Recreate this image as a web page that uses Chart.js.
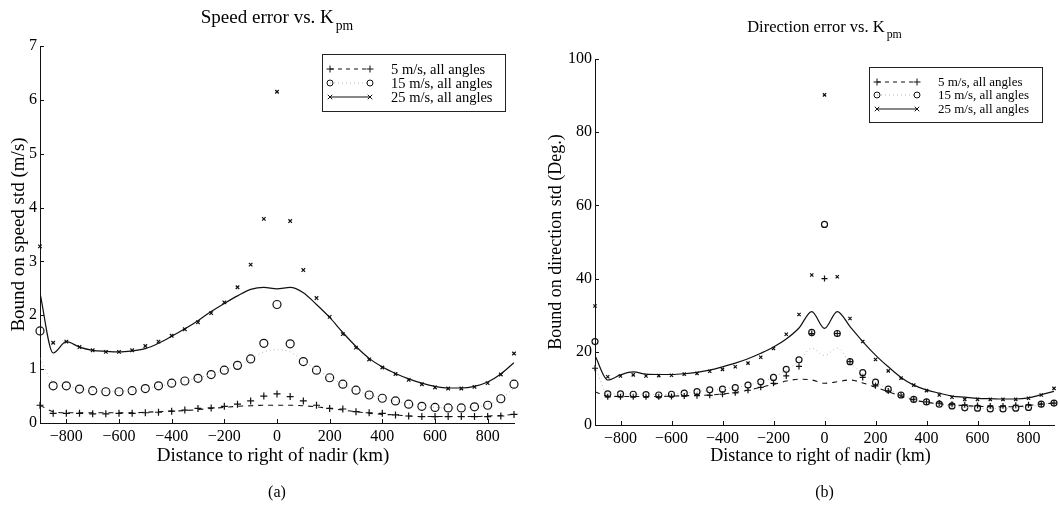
<!DOCTYPE html>
<html>
<head>
<meta charset="utf-8">
<script src="https://cdn.jsdelivr.net/npm/chart.js@4.4.1/dist/chart.umd.min.js"></script>
<style>
  body { margin: 0; background: #fff; }
  .panel { position: absolute; top: 0; width: 530px; height: 514px; }
</style>
</head>
<body>
<div class="panel" style="left:0"><canvas id="speedChart" width="530" height="514"></canvas></div>
<div class="panel" style="left:530px"><canvas id="dirChart" width="530" height="514"></canvas></div>
<script>
// distance to right of nadir (km)
const distance = [-900,-850,-800,-750,-700,-650,-600,-550,-500,-450,-400,-350,-300,-250,-200,-150,-100,-50,0,
  50,100,150,200,250,300,350,400,450,500,550,600,650,700,750,800,850,900];
const xTicks = [-800,-600,-400,-200,0,200,400,600,800];
const speedTicks = [0,1,2,3,4,5,6,7];
const dirTicks = [0,20,40,60,80,100];
const seriesNames = ['5 m/s, all angles', '15 m/s, all angles', '25 m/s, all angles'];

// (a) speed error bound, m/s
const spd5Pts  = [0.33,0.18,0.18,0.18,0.17,0.17,0.18,0.18,0.19,0.20,0.22,0.24,0.27,0.28,0.31,0.35,0.41,0.50,0.54,
  0.49,0.41,0.33,0.27,0.26,0.21,0.19,0.18,0.15,0.13,0.12,0.12,0.12,0.12,0.12,0.12,0.13,0.16];
const spd5Line = [0.33,0.21,0.19,0.19,0.19,0.19,0.19,0.19,0.20,0.21,0.22,0.23,0.25,0.27,0.29,0.31,0.32,0.33,0.33,
  0.33,0.32,0.30,0.27,0.24,0.21,0.18,0.16,0.15,0.13,0.12,0.12,0.12,0.12,0.12,0.13,0.14,0.16];
const spd15Pts = [1.71,0.69,0.69,0.63,0.60,0.58,0.58,0.60,0.64,0.69,0.74,0.78,0.83,0.90,0.98,1.07,1.19,1.48,2.20,
  1.47,1.14,0.98,0.84,0.72,0.61,0.52,0.46,0.41,0.35,0.31,0.29,0.28,0.28,0.30,0.33,0.45,0.72];
const spd15Line = [1.20,0.75,0.68,0.64,0.61,0.59,0.59,0.61,0.64,0.68,0.73,0.78,0.84,0.90,0.98,1.07,1.18,1.32,1.36,
  1.32,1.15,0.99,0.85,0.72,0.61,0.52,0.46,0.40,0.35,0.31,0.29,0.28,0.28,0.30,0.34,0.45,0.65];
const spd25Pts = [3.28,1.49,1.51,1.41,1.35,1.32,1.32,1.35,1.43,1.51,1.62,1.74,1.87,2.04,2.24,2.52,2.94,3.79,6.15,
  3.75,2.84,2.32,1.97,1.65,1.40,1.18,1.03,0.91,0.80,0.72,0.66,0.64,0.64,0.67,0.74,0.90,1.29];
const spd25Line = [2.41,1.30,1.51,1.41,1.35,1.33,1.32,1.34,1.38,1.48,1.61,1.75,1.90,2.07,2.22,2.36,2.48,2.52,2.49,
  2.52,2.42,2.20,1.96,1.68,1.42,1.20,1.04,0.92,0.82,0.74,0.68,0.65,0.65,0.68,0.76,0.91,1.12];

// (b) direction error bound, deg
const dir5Pts  = [15.5,7.7,7.7,7.7,7.7,7.7,7.8,7.9,8.0,8.1,8.4,8.8,9.5,10.3,11.4,13.4,16.0,25.0,40.0,
  25.0,17.3,13.0,10.7,9.3,8.2,7.0,6.3,6.0,5.7,5.5,5.3,5.2,5.2,5.4,5.5,5.7,6.0];
const dir5Line = [9.1,7.9,7.8,7.8,7.8,7.8,7.9,8.0,8.1,8.2,8.5,8.9,9.5,10.3,11.1,12.0,12.5,12.3,11.4,
  11.8,12.3,11.5,10.3,9.1,7.9,6.8,6.2,5.8,5.5,5.3,5.1,5.0,5.0,5.0,5.3,5.7,6.0];
const dir15Pts = [22.8,8.5,8.5,8.4,8.3,8.2,8.4,8.7,9.1,9.6,9.8,10.2,10.9,11.8,13.0,15.2,17.8,25.3,54.8,
  25.0,17.3,14.3,11.7,9.8,8.2,7.0,6.3,5.7,5.2,4.7,4.6,4.4,4.4,4.6,4.8,5.7,6.0];
const dir15Line = [16.0,8.6,8.5,8.4,8.3,8.3,8.4,8.7,9.1,9.5,9.9,10.3,10.9,11.8,13.0,15.0,17.5,21.0,19.0,
  21.0,17.0,14.0,11.7,9.8,8.2,7.0,6.3,5.7,5.2,4.8,4.6,4.5,4.5,4.6,4.9,5.6,6.2];
const dir25Pts = [32.5,13.2,13.4,13.7,13.4,13.5,13.6,13.9,14.1,14.7,15.2,15.9,16.9,18.5,20.9,24.8,30.2,41.0,90.2,
  40.5,29.1,22.8,17.9,14.8,12.8,10.9,9.4,8.2,7.6,7.0,7.0,7.0,7.0,7.0,7.3,8.2,10.0];
const dir25Line = [19.0,12.3,13.7,14.5,13.9,13.8,13.8,14.0,14.4,15.0,15.9,16.9,18.1,19.6,21.3,23.5,26.5,31.0,26.4,
  31.0,26.9,22.8,19.1,15.9,13.0,10.9,9.6,8.7,7.9,7.6,7.3,7.2,7.1,7.1,7.4,8.3,9.2];

const ink = '#111';
const serif = "'Liberation Serif', 'DejaVu Serif', serif";

function pts(vals) {
  return distance.map((d, i) => ({ x: d, y: vals[i] }));
}

// marker drawing for the legend samples
function marker(ctx, style, x, y, r) {
  ctx.beginPath();
  if (style === 'circle') {
    ctx.arc(x, y, r, 0, Math.PI * 2);
  } else if (style === 'cross') {
    ctx.moveTo(x - r, y); ctx.lineTo(x + r, y);
    ctx.moveTo(x, y - r); ctx.lineTo(x, y + r);
  } else {
    const d = r * 0.75;
    ctx.moveTo(x - d, y - d); ctx.lineTo(x + d, y + d);
    ctx.moveTo(x - d, y + d); ctx.lineTo(x + d, y - d);
  }
  ctx.stroke();
}

// title with subscript, axis labels, caption, legend box and inward ticks (MATLAB look)
const paperPlugin = {
  id: 'paper',
  afterDraw(chart, args, o) {
    const { ctx, chartArea: a, scales } = chart;
    const cx = (a.left + a.right) / 2;
    ctx.save();
    ctx.fillStyle = '#000';
    ctx.strokeStyle = ink;
    ctx.lineWidth = 1;

    // inward tick marks
    ctx.beginPath();
    scales.x.ticks.forEach(t => {
      const px = Math.round(scales.x.getPixelForValue(t.value)) + 0.5;
      ctx.moveTo(px, a.bottom); ctx.lineTo(px, a.bottom - 4);
    });
    scales.y.ticks.forEach(t => {
      const py = Math.round(scales.y.getPixelForValue(t.value)) + 0.5;
      ctx.moveTo(a.left, py); ctx.lineTo(a.left + 4, py);
    });
    ctx.stroke();

    // title
    ctx.textBaseline = 'alphabetic';
    ctx.textAlign = 'left';
    ctx.font = o.titleSize + 'px ' + serif;
    const w1 = ctx.measureText(o.title).width;
    ctx.font = (o.titleSize * 0.72) + 'px ' + serif;
    const w2 = ctx.measureText('pm').width;
    const tx = cx - (w1 + w2 + 2) / 2;
    ctx.font = o.titleSize + 'px ' + serif;
    ctx.fillText(o.title, tx, o.titleY);
    ctx.font = (o.titleSize * 0.72) + 'px ' + serif;
    ctx.fillText('pm', tx + w1 + 2, o.titleY + o.titleSize * 0.38);

    // x label and caption
    ctx.textAlign = 'center';
    ctx.font = o.labelSize + 'px ' + serif;
    ctx.fillText('Distance to right of nadir (km)', cx - 4, o.xLabelY);
    ctx.font = '16px ' + serif;
    ctx.fillText(o.caption, cx, 497);

    // y label
    ctx.save();
    ctx.translate(o.yLabelX, (a.top + a.bottom) / 2 + o.yLabelShift);
    ctx.rotate(-Math.PI / 2);
    ctx.font = o.labelSize + 'px ' + serif;
    ctx.textBaseline = 'middle';
    ctx.fillText(o.yLabel, 0, 0);
    ctx.restore();

    // legend
    const L = o.legend;
    ctx.strokeStyle = '#222';
    ctx.strokeRect(L.x + 0.5, L.y + 0.5, L.w, L.h);
    const styles = [
      { dash: [4, 4], color: ink, pt: 'cross', r: 3.5 },
      { dash: [1, 3], color: '#bbb', pt: 'circle', r: 3 },
      { dash: [], color: ink, pt: 'crossRot', r: 3 }
    ];
    ctx.font = L.font + 'px ' + serif;
    ctx.textAlign = 'left';
    ctx.textBaseline = 'middle';
    seriesNames.forEach((name, i) => {
      const s = styles[i];
      const ry = L.rows[i];
      ctx.strokeStyle = s.color;
      ctx.setLineDash(s.dash);
      ctx.beginPath();
      ctx.moveTo(L.sx0, ry); ctx.lineTo(L.sx1, ry);
      ctx.stroke();
      ctx.setLineDash([]);
      ctx.strokeStyle = ink;
      marker(ctx, s.pt, L.sx0, ry, s.r);
      marker(ctx, s.pt, L.sx1, ry, s.r);
      ctx.fillText(name, L.tx, ry + 1);
    });
    ctx.restore();
  }
};

function makeChart(id, cfg) {
  const ctx = document.getElementById(id).getContext('2d');
  const markerSet = (vals, style, r) => ({
    data: pts(vals), showLine: false, clip: false,
    pointStyle: style, pointRadius: r, pointBorderWidth: 1.2,
    pointBorderColor: ink, pointBackgroundColor: 'rgba(0,0,0,0)'
  });
  const lineSet = (vals, dash, color, w) => ({
    data: pts(vals), pointRadius: 0, borderColor: color, borderWidth: w,
    borderDash: dash, cubicInterpolationMode: 'monotone', fill: false
  });
  return new Chart(ctx, {
    type: 'line',
    data: {
      datasets: [
        lineSet(cfg.l5, [5, 5], ink, 1.1),
        lineSet(cfg.l15, [1, 3], '#b5b5b5', 1),
        lineSet(cfg.l25, [], ink, 1.2),
        markerSet(cfg.p5, 'cross', cfg.crossR),
        markerSet(cfg.p15, 'circle', cfg.circleR),
        markerSet(cfg.p25, 'crossRot', cfg.xR)
      ]
    },
    options: {
      responsive: false,
      animation: false,
      events: [],
      layout: { padding: cfg.padding },
      plugins: { legend: { display: false }, tooltip: { enabled: false }, paper: cfg.paper },
      scales: {
        x: {
          type: 'linear', min: -900, max: 900,
          afterBuildTicks: s => { s.ticks = xTicks.map(v => ({ value: v })); },
          afterFit: s => { s.height = cfg.xHeight; },
          grid: { display: false, drawTicks: false },
          border: { display: true, color: ink, width: 1 },
          ticks: {
            color: '#000', padding: 4, maxRotation: 0, autoSkip: false,
            font: { family: serif, size: cfg.tickSize },
            callback: v => (v < 0 ? '\u2212' + Math.abs(v) : String(v))
          }
        },
        y: {
          type: 'linear', min: cfg.yTicks[0], max: cfg.yTicks[cfg.yTicks.length - 1],
          afterBuildTicks: s => { s.ticks = cfg.yTicks.map(v => ({ value: v })); },
          afterFit: s => { s.width = cfg.yWidth; },
          grid: { display: false, drawTicks: false },
          border: { display: true, color: ink, width: 1 },
          ticks: {
            color: '#000', padding: 3,
            font: { family: serif, size: cfg.tickSize }
          }
        }
      }
    },
    plugins: [paperPlugin]
  });
}

makeChart('speedChart', {
  p5: spd5Pts, l5: spd5Line, p15: spd15Pts, l15: spd15Line, p25: spd25Pts, l25: spd25Line,
  yTicks: speedTicks, crossR: 3.5, circleR: 4, xR: 2.5, tickSize: 16,
  padding: { left: 0, top: 46, right: 16, bottom: 0 }, yWidth: 40, xHeight: 91,
  paper: {
    title: 'Speed error vs. K', titleSize: 19, titleY: 23, caption: '(a)',
    labelSize: 19, xLabelY: 461, yLabel: 'Bound on speed std (m/s)', yLabelX: 19, yLabelShift: 0,
    legend: { x: 322, y: 54, w: 183, h: 57, rows: [69, 83, 97], sx0: 330, sx1: 370, tx: 391, font: 14.5 }
  }
});

makeChart('dirChart', {
  p5: dir5Pts, l5: dir5Line, p15: dir15Pts, l15: dir15Line, p25: dir25Pts, l25: dir25Line,
  yTicks: dirTicks, crossR: 3, circleR: 3, xR: 2.3, tickSize: 16,
  padding: { left: 0, top: 59, right: 6, bottom: 0 }, yWidth: 65, xHeight: 89,
  paper: {
    title: 'Direction error vs. K', titleSize: 16.5, titleY: 32, caption: '(b)',
    labelSize: 18, xLabelY: 461, yLabel: 'Bound on direction std (Deg.)', yLabelX: 26, yLabelShift: 0,
    legend: { x: 339, y: 67, w: 173, h: 55, rows: [82, 95, 109], sx0: 347, sx1: 387, tx: 408, font: 13 }
  }
});
</script>
</body>
</html>
